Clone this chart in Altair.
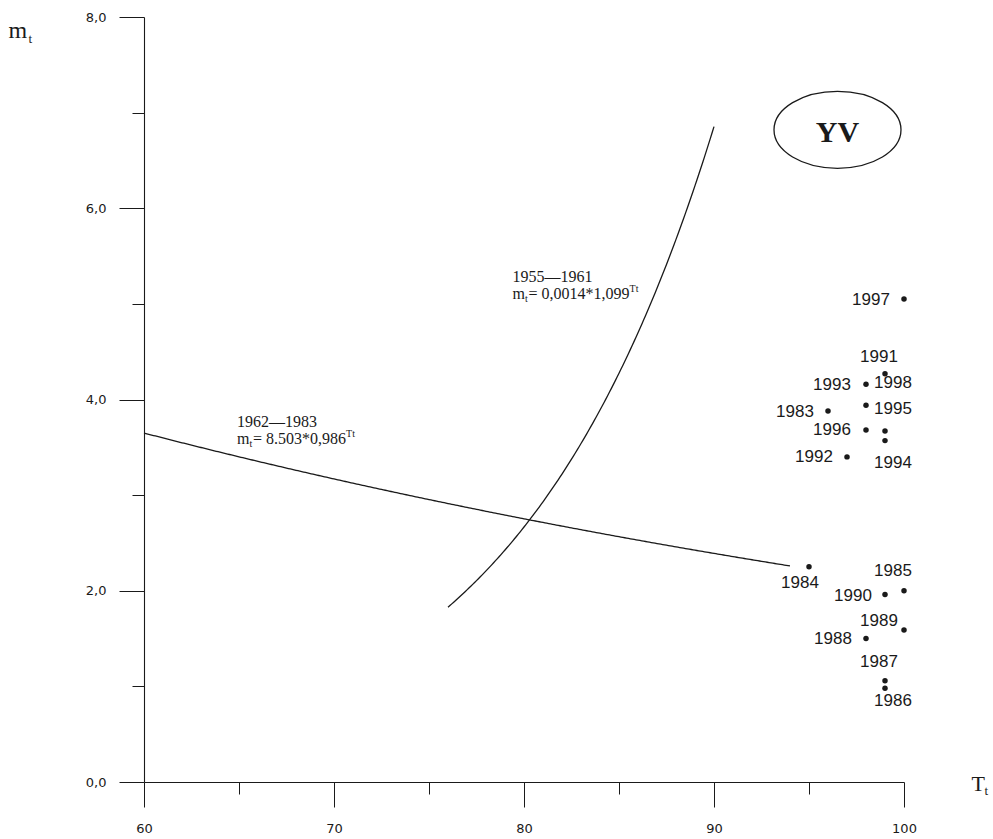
import altair as alt
import pandas as pd

# Observed seasons: turnover T_t (x) against m_t (y)
years = [1983, 1984, 1985, 1986, 1987, 1988, 1989, 1990,
         1991, 1992, 1993, 1994, 1995, 1996, 1997, 1998]
T_obs = [96, 95, 100, 99, 99, 98, 100, 99,
         99, 97, 98, 99, 98, 98, 100, 99]
m_obs = [3.88, 2.25, 2.00, 0.98, 1.06, 1.50, 1.59, 1.96,
         4.27, 3.40, 4.16, 3.57, 3.94, 3.68, 5.05, 3.67]

# Year label placement relative to its dot (pixels)
label_dx = [-33, -9, -11, 8, -6, -33, -25, -32,
            -6, -33, -34, 8, 27, -34, -33, 8]
label_dy = [1, 16, -20, 13, -19, 0, -9, 1,
            -17, 0, 1, 22, 4, 0, 1, -48]

# Fitted regressions m_t = a * b^T_t
fit_period = ["1955\u20141961", "1962\u20141983"]
fit_a = [0.0014, 8.503]
fit_b = [1.099, 0.986]
fit_from = [76, 60]
fit_to = [90, 94]
fit_formula = ["= 0,0014*1,099", "= 8.503*0,986"]
fit_label_T = [79.4, 64.9]
fit_label_m = [5.23, 3.71]
fit_sup_dx = [117, 109]

# Station badge
badge_text = ["YV"]
badge_T = [96.5]
badge_m = [6.82]

x_ticks_major = [60, 70, 80, 90, 100]
x_ticks_minor = [65, 75, 85, 95]
y_ticks_major = [0, 2, 4, 6, 8]
y_ticks_minor = [1, 3, 5, 7]

W, H = 760, 765
X_DOM, Y_DOM = [60, 100], [0, 8]
INK = "#1a1a1a"
SERIF = "Liberation Serif"

xs = alt.Scale(domain=X_DOM, nice=False, zero=False)
ys = alt.Scale(domain=Y_DOM, nice=False, zero=False)

obs = pd.DataFrame({"year": years, "T": T_obs, "m": m_obs,
                    "dx": label_dx, "dy": label_dy})
obs["lT"] = obs["T"] + obs["dx"] * (X_DOM[1] - X_DOM[0]) / W
obs["lm"] = obs["m"] - obs["dy"] * (Y_DOM[1] - Y_DOM[0]) / H
obs["year"] = obs["year"].astype(str)

common_axis = dict(grid=False, tickColor=INK, tickWidth=1,
                   labelFont="DejaVu Sans", labelFontSize=13,
                   labelColor=INK, labelFlush=False, titleFont=SERIF,
                   titleFontWeight="normal", titleColor=INK, titleAngle=0,
                   titleAlign="left", titleBaseline="alphabetic")

x_main = alt.Axis(values=x_ticks_major, orient="bottom", tickSize=25,
                  labelPadding=15, title="T", titleFontSize=22,
                  titleX=827, titleY=8, domainColor=INK, domainWidth=1.1,
                  **common_axis)
y_main = alt.Axis(values=y_ticks_major, orient="left", tickSize=25,
                  labelPadding=13,
                  labelExpr="replace(format(datum.value, '.1f'), '.', ',')",
                  title="m", titleFontSize=24, titleX=-136, titleY=20,
                  domainColor=INK, domainWidth=1.1, **common_axis)
x_minor = alt.Axis(values=x_ticks_minor, orient="bottom", tickSize=12,
                   labels=False, domain=False, title="t", titleFontSize=13,
                   titleX=840, titleY=12, **common_axis)
y_minor = alt.Axis(values=y_ticks_minor, orient="left", tickSize=12,
                   labels=False, domain=False, title="t", titleFontSize=13,
                   titleX=-116, titleY=25, **common_axis)

# Observations
dots = alt.Chart(obs).mark_circle(size=30, color=INK, opacity=1).encode(
    x=alt.X("T:Q", scale=xs, axis=x_main),
    y=alt.Y("m:Q", scale=ys, axis=y_main),
)
year_labels = alt.Chart(obs).mark_text(
    font="Liberation Sans", fontSize=17, color=INK,
    align="center", baseline="middle",
).encode(
    x=alt.X("lT:Q", scale=xs, axis=None),
    y=alt.Y("lm:Q", scale=ys, axis=None),
    text="year:N",
)

layers = [dots, year_labels]

# Regression curves and their captions
for i in range(len(fit_a)):
    curve = alt.Chart(
        alt.sequence(start=fit_from[i], stop=fit_to[i] + 0.05, step=0.1, as_="T")
    ).transform_calculate(
        m=f"{fit_a[i]} * pow({fit_b[i]}, datum.T)"
    ).mark_line(color=INK, strokeWidth=1.3).encode(
        x=alt.X("T:Q", scale=xs, axis=x_minor if i == 0 else None),
        y=alt.Y("m:Q", scale=ys, axis=y_minor if i == 0 else None),
    )
    layers.append(curve)

    cap = pd.DataFrame({"T": [fit_label_T[i]], "m": [fit_label_m[i]],
                        "period": [fit_period[i]], "formula": [fit_formula[i]]})
    base = alt.Chart(cap).encode(
        x=alt.X("T:Q", scale=xs, axis=None),
        y=alt.Y("m:Q", scale=ys, axis=None),
    )
    txt = dict(font=SERIF, color=INK, align="left", baseline="alphabetic")
    layers += [
        base.mark_text(fontSize=16, **txt).encode(text="period:N"),
        base.mark_text(fontSize=16, dy=17, **txt).encode(text=alt.value("m")),
        base.mark_text(fontSize=10, dx=12.5, dy=20, **txt).encode(text=alt.value("t")),
        base.mark_text(fontSize=16, dx=16, dy=17, **txt).encode(text="formula:N"),
        base.mark_text(fontSize=10, dx=fit_sup_dx[i], dy=10, **txt).encode(text=alt.value("Tt")),
    ]

# Badge: ellipse with station code
badge = pd.DataFrame({"T": badge_T, "m": badge_m, "code": badge_text})
ellipse_path = "M -1 0 A 1 0.606 0 1 1 1 0 A 1 0.606 0 1 1 -1 0 Z"
badge_base = alt.Chart(badge).encode(
    x=alt.X("T:Q", scale=xs, axis=None),
    y=alt.Y("m:Q", scale=ys, axis=None),
)
layers += [
    badge_base.mark_point(shape=ellipse_path, size=127 * 127, filled=False,
                          stroke=INK, strokeWidth=1.3, opacity=1),
    badge_base.mark_text(font=SERIF, fontSize=30, fontWeight="bold", color=INK,
                         align="center", baseline="middle", dy=3).encode(text="code:N"),
]

chart = alt.layer(*layers).resolve_axis(
    x="independent", y="independent"
).properties(
    width=W, height=H,
    autosize=alt.AutoSizeParams(type="none"),
    padding={"left": 144, "top": 17, "right": 89, "bottom": 57},
    background="white",
).configure_view(strokeWidth=0)

chart.save("out.html", embed_options={"renderer": "svg", "actions": False})
